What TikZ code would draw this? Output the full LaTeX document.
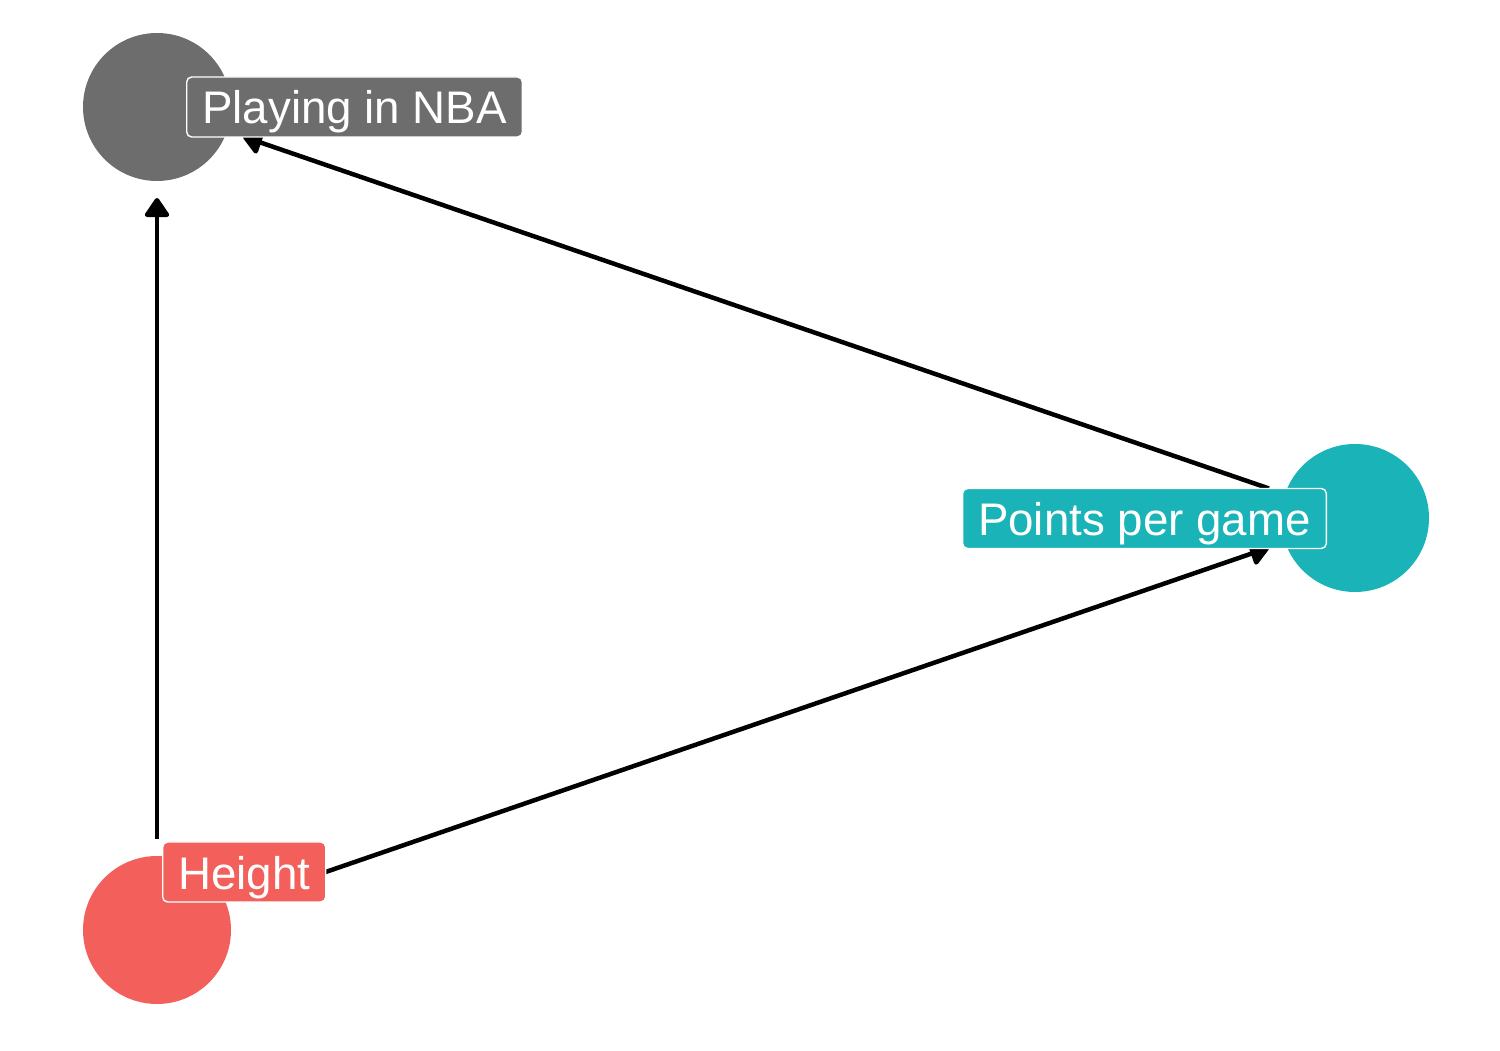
\documentclass[tikz,border=0pt]{standalone}
\usepackage{fontspec}
\setmainfont{Liberation Sans}
\usetikzlibrary{arrows.meta}
\definecolor{nbagray}{HTML}{6D6D6D}
\definecolor{ppgteal}{HTML}{1AB3B7}
\definecolor{htred}{HTML}{F3605C}

\begin{document}
\begin{tikzpicture}[
        var/.style={circle,minimum size=1.48cm,inner sep=0pt,outer sep=0.17cm},
        lab/.style={draw=white,line width=0.4pt,rounded corners=0.05cm,text=white,
        font=\fontsize{13}{15}\selectfont,inner xsep=0.155cm,inner ysep=0pt,
        text height=0.47cm,text depth=0.13cm},
        edge/.style={-{Triangle[length=0.21cm,width=0.27cm,round]},line width=0.045cm}]
        \useasboundingbox (0,0) rectangle (15,10.5);

        % variables
        \node[var,fill=nbagray] (nba) at (1.57,9.43) {};
        \node[var,fill=ppgteal] (ppg) at (13.55,5.32) {};
        \node[var,fill=htred] (ht) at (1.57,1.20) {};

        % arrows
        \foreach \from/\to in {ht/nba, ht/ppg, ppg/nba}{
            \draw[edge] (\from) -- (\to);
        }

        % labels
        \node[lab,fill=nbagray,anchor=west] (nbalab) at (1.86,9.43) {Playing in NBA};
        \node[lab,fill=ppgteal,anchor=east] (ppglab) at (13.27,5.315) {Points per game};
        \node[lab,fill=htred,anchor=west] (htlab) at (1.62,1.78) {Height};
    \end{tikzpicture}
\end{document}
